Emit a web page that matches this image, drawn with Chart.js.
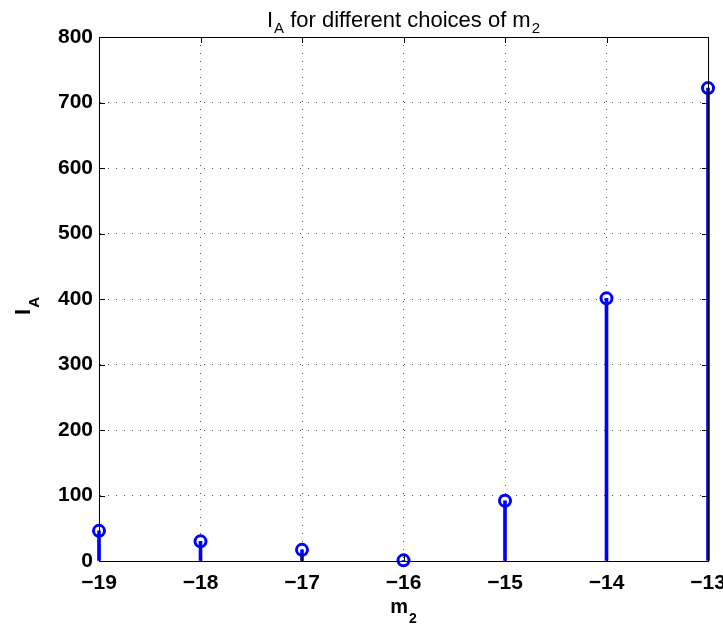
<!DOCTYPE html>
<html>
<head>
<meta charset="utf-8">
<script src="https://cdn.jsdelivr.net/npm/chart.js@4.4.1/dist/chart.umd.min.js"></script>
<style>
  html, body { margin: 0; padding: 0; background: #fff; }
  #wrap { width: 723px; height: 629px; position: relative; }
</style>
</head>
<body>
<div id="wrap"><canvas id="stemChart"></canvas></div>
<script>
// m2 choices and the resulting I_A values
const m2Values = [-19, -18, -17, -16, -15, -14, -13];
const iaValues = [46, 30, 17, 1, 92, 401, 722];
const yTicks = [0, 100, 200, 300, 400, 500, 600, 700, 800];

const BLUE = '#0000ff';
const FONT = "'Liberation Sans', Arial, sans-serif";

const points = m2Values.map((m, i) => ({ x: m, y: iaValues[i] }));
const minus = v => String(v).replace('-', '\u2212');

// text pieces: [string, isSubscript]
function measureParts(ctx, parts, size, subSize, weight) {
    return parts.reduce((w, [s, sub]) => {
        ctx.font = weight + ' ' + (sub ? subSize : size) + 'px ' + FONT;
        return w + ctx.measureText(s).width + (sub ? 1 : 0);
    }, 0);
}

function drawParts(ctx, parts, x, y, size, subSize, drop, weight) {
    parts.forEach(([s, sub]) => {
        ctx.font = weight + ' ' + (sub ? subSize : size) + 'px ' + FONT;
        if (sub) x += 1;
        ctx.fillText(s, x, sub ? y + drop : y);
        x += ctx.measureText(s).width;
    });
}

// MATLAB-style frame: box, inward ticks, title and axis labels with subscripts
const framePlugin = {
    id: 'frame',
    afterDraw(chart) {
        const { ctx, chartArea: a, scales } = chart;
        ctx.save();
        ctx.strokeStyle = '#000';
        ctx.lineWidth = 1;
        ctx.strokeRect(a.left + 0.5, a.top + 0.5, a.right - a.left, a.bottom - a.top);

        const tl = 6;
        ctx.beginPath();
        m2Values.forEach(v => {
            const px = Math.round(scales.x.getPixelForValue(v)) + 0.5;
            ctx.moveTo(px, a.bottom); ctx.lineTo(px, a.bottom - tl);
            ctx.moveTo(px, a.top); ctx.lineTo(px, a.top + tl);
        });
        yTicks.forEach(v => {
            const py = Math.round(scales.y.getPixelForValue(v)) + 0.5;
            ctx.moveTo(a.left, py); ctx.lineTo(a.left + tl, py);
            ctx.moveTo(a.right, py); ctx.lineTo(a.right - tl, py);
        });
        ctx.stroke();

        ctx.fillStyle = '#000';
        ctx.textBaseline = 'alphabetic';
        ctx.textAlign = 'left';
        const cx = (a.left + a.right) / 2;

        // title
        const title = [['I', false], ['A', true], [' for different choices of m', false], ['2', true]];
        const tw = measureParts(ctx, title, 22, 15, 'normal');
        drawParts(ctx, title, cx - tw / 2, 27, 22, 15, 6, 'normal');

        // x label
        const xl = [['m', false], ['2', true]];
        const xw = measureParts(ctx, xl, 20, 14, 'bold');
        drawParts(ctx, xl, cx - xw / 2, 613, 20, 14, 10, 'bold');

        // y label, rotated
        const yl = [['I', false], ['A', true]];
        ctx.translate(30, 306);
        ctx.rotate(-Math.PI / 2);
        const yw = measureParts(ctx, yl, 22, 15, 'bold');
        drawParts(ctx, yl, -yw / 2, 0, 22, 15, 9, 'bold');
        ctx.restore();
    }
};

new Chart(document.getElementById('stemChart'), {
    type: 'bar',
    data: {
        datasets: [{
            type: 'scatter',
            data: points,
            borderColor: BLUE,
            backgroundColor: 'rgba(0,0,0,0)',
            pointRadius: 5.5,
            pointBorderWidth: 3,
            pointHoverRadius: 5.5,
            clip: false,
            order: 0
        }, {
            type: 'bar',
            data: points,
            backgroundColor: BLUE,
            barThickness: 3,
            clip: false,
            order: 1
        }]
    },
    options: {
        responsive: true,
        maintainAspectRatio: false,
        animation: false,
        events: [],
        layout: { padding: { left: 0, right: 15, top: 37, bottom: 0 } },
        plugins: {
            legend: { display: false },
            tooltip: { enabled: false },
            title: { display: false }
        },
        scales: {
            x: {
                type: 'linear',
                min: -19,
                max: -13,
                offset: false,
                afterFit(s) { s.height = 68; s.paddingLeft = 0; s.paddingRight = 0; },
                afterBuildTicks(s) { s.ticks = m2Values.map(v => ({ value: v })); },
                grid: {
                    color: '#555',
                    lineWidth: 1,
                    drawTicks: false,
                    offset: false
                },
                border: { display: true, color: '#000', width: 1, dash: [1, 7] },
                ticks: {
                    color: '#000',
                    padding: 10,
                    autoSkip: false,
                    maxRotation: 0,
                    font: { family: FONT, size: 21, weight: 'bold' },
                    callback: v => minus(v)
                }
            },
            y: {
                min: 0,
                max: 800,
                afterFit(s) { s.width = 99; s.paddingTop = 0; s.paddingBottom = 0; },
                afterBuildTicks(s) { s.ticks = yTicks.map(v => ({ value: v })); },
                grid: {
                    color: '#555',
                    lineWidth: 1,
                    drawTicks: false
                },
                border: { display: true, color: '#000', width: 1, dash: [1, 7] },
                ticks: {
                    color: '#000',
                    padding: 6,
                    font: { family: FONT, size: 21, weight: 'bold' },
                    callback: v => minus(v)
                }
            }
        }
    },
    plugins: [framePlugin]
});
</script>
</body>
</html>
